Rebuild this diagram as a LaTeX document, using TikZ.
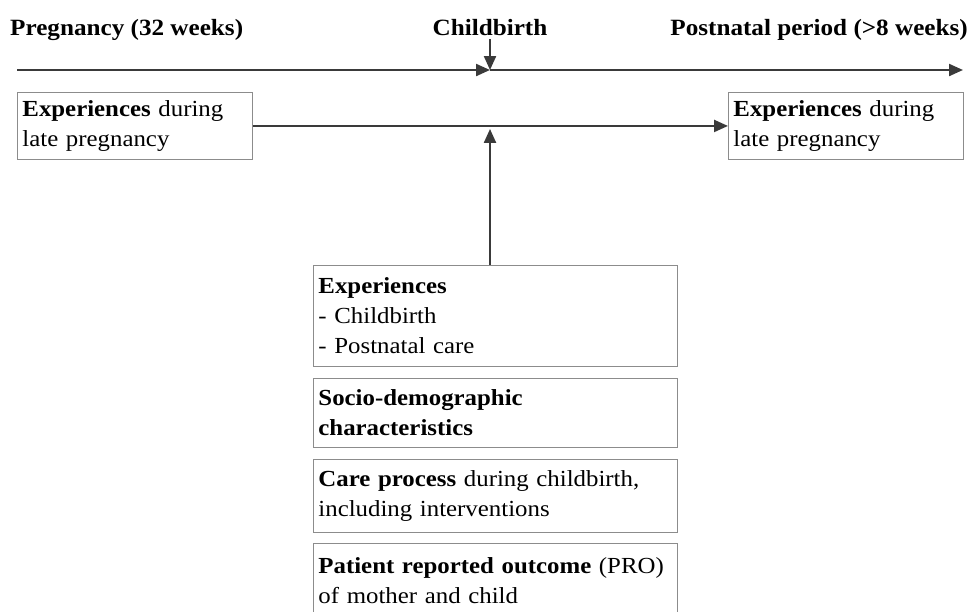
\documentclass[tikz,border=0pt]{standalone}
\usepackage{fontspec}
\setmainfont{Liberation Serif}[FakeStretch=1.08]
\usetikzlibrary{arrows.meta}

\definecolor{linegray}{HTML}{3A3A3A}
\definecolor{boxgray}{HTML}{8C8C8C}

\begin{document}
\begin{tikzpicture}[x=1pt,y=-1pt,
    infobox/.style={draw=boxgray,line width=0.9pt,anchor=north west,align=left,
        inner xsep=5pt,inner ysep=0pt,font=\fontsize{23}{30}\selectfont},
    smallbox/.style={infobox,text width=225pt,minimum height=67pt},
    colbox/.style={infobox,text width=354pt},
    period/.style={font=\fontsize{23.3}{26}\selectfont\bfseries,inner sep=0pt},
    flow/.style={draw=linegray,line width=2.2pt,-{Triangle[length=14pt,width=12pt]}}]
    \useasboundingbox (0,0) rectangle (972,611);
    \clip (0,0) rectangle (972,611);

    %time line
    \node[period,anchor=base west] (preg)  at (10,35)  {Pregnancy (32 weeks)};
    \node[period,anchor=base]      (birth) at (490,35) {Childbirth};
    \node[period,anchor=base east] (post)  at (968,35) {Postnatal period (>8 weeks)};
    \coordinate (tstart) at (17,70);
    \coordinate (tmid)   at (490,70);
    \coordinate (tend)   at (963,70);
    \draw[flow] (tstart) -- (tmid);
    \draw[flow] (tmid) -- (tend);
    \draw[flow] ([yshift=-4pt]birth.south) -- (tmid);

    %experiences before and after
    \node[smallbox] (late) at (17,92)  {\textbf{Experiences} during\\late pregnancy};
    \node[smallbox] (postexp) at (728,92) {\textbf{Experiences} during\\late pregnancy};
    \draw[flow] (late.east) -- (postexp.west);

    %column of factors
    \node[colbox,minimum height=101pt] (exp)   at (313,265) {\textbf{Experiences}\\- Childbirth\\- Postnatal care};
    \node[colbox,minimum height=69pt]  (socio) at (313,378) {\textbf{Socio-demographic}\\\textbf{characteristics}};
    \node[colbox,minimum height=73pt]  (care)  at (313,459) {\textbf{Care process} during childbirth,\\including interventions};
    \node[colbox,minimum height=74pt]  (pro)   at (313,543) {\textbf{Patient reported outcome} (PRO)\\of mother and child};
    \draw[flow,shorten >=3pt] (exp.north -| tmid) -- (late.east -| tmid);
\end{tikzpicture}
\end{document}
